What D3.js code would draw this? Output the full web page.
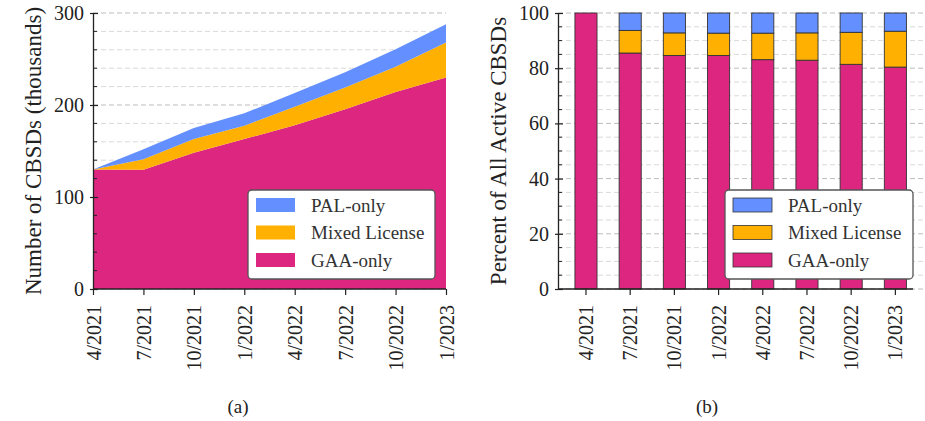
<!DOCTYPE html>
<html>
<head>
<meta charset="utf-8">
<script src="https://cdn.jsdelivr.net/npm/d3@7/dist/d3.min.js"></script>
<style>
  html, body { margin: 0; padding: 0; background: #fff; }
  svg { display: block; font-family: "Liberation Serif", "Times New Roman", serif; }
  svg text { font-family: "Liberation Serif", "Times New Roman", serif; }
</style>
</head>
<body>
<svg id="fig" width="925" height="421"></svg>
<script>
// Quarterly snapshots
const dates = ["4/2021", "7/2021", "10/2021", "1/2022", "4/2022", "7/2022", "10/2022", "1/2023"];

// (a) active CBSDs, thousands
const gaaCount   = [130, 129.5, 148, 163, 178, 195.5, 214, 230];
const mixedCount = [0, 11.5, 15, 14.5, 20, 23.5, 27.5, 38];
const palCount   = [0, 11, 12, 13.5, 15, 16.5, 19, 19.7];

// (b) share of all active CBSDs, percent
const gaaPct   = [100, 85.5, 84.6, 84.6, 83.1, 82.9, 81.4, 80.4];
const mixedPct = [0, 8.2, 8.2, 8.1, 9.6, 9.9, 11.6, 13.0];
const palPct   = [0, 6.3, 7.2, 7.3, 7.3, 7.2, 7.0, 6.6];

const seriesKeys = ["gaa", "mixed", "pal"];
const seriesNames = { gaa: "GAA-only", mixed: "Mixed License", pal: "PAL-only" };
const colors = { gaa: "#DC267F", mixed: "#FFB000", pal: "#648FFF" };

const leftTicks = [0, 100, 200, 300];
const rightTicks = [0, 20, 40, 60, 80, 100];

const svg = d3.select("#fig");
const axisColor = "#222";
const serif = "Liberation Serif";

function rows(g, m, p) {
  return dates.map((d, i) => ({ date: d, gaa: g[i], mixed: m[i], pal: p[i] }));
}

function grid(g, y, x0, gridEnd, major, minorStep, max) {
  const minor = d3.range(0, max + 0.001, minorStep).filter(v => !major.includes(v));
  g.append("g").selectAll("line").data(minor).join("line")
    .attr("x1", x0).attr("x2", gridEnd).attr("y1", d => y(d)).attr("y2", d => y(d))
    .attr("stroke", "#d9d9d9").attr("stroke-width", 1).attr("stroke-dasharray", "5,3");
  g.append("g").selectAll("line").data(major).join("line")
    .attr("x1", x0).attr("x2", gridEnd).attr("y1", d => y(d)).attr("y2", d => y(d))
    .attr("stroke", "#bdbdbd").attr("stroke-width", 1).attr("stroke-dasharray", "5,3");
}

function drawYAxis(g, y, x0, major, minorStep, max, label, labelX) {
  const minor = d3.range(0, max + 0.001, minorStep).filter(v => !major.includes(v));
  const ax = g.append("g").attr("transform", `translate(${x0},0)`)
    .call(d3.axisLeft(y).tickValues(major).tickSizeInner(3).tickSizeOuter(0).tickPadding(6));
  ax.attr("font-family", serif);
  ax.select(".domain").attr("stroke", axisColor).attr("stroke-width", 1.3);
  ax.selectAll(".tick line").attr("stroke", axisColor).attr("stroke-width", 1.2).attr("x2", -3).attr("x1", 5);
  ax.selectAll(".tick text").attr("fill", "#222").style("font-size", "20px");
  g.append("g").selectAll("line").data(minor).join("line")
    .attr("x1", x0).attr("x2", x0 + 4).attr("y1", d => y(d)).attr("y2", d => y(d))
    .attr("stroke", axisColor).attr("stroke-width", 1);
  g.append("text")
    .attr("transform", `translate(${labelX},${(y(0) + y(max)) / 2}) rotate(-90)`)
    .attr("text-anchor", "middle").attr("dy", "0.35em")
    .attr("fill", "#222").style("font-size", "23px").text(label);
}

function drawXAxis(g, x, yPos, x0, x1) {
  g.append("line").attr("x1", x0).attr("x2", x1).attr("y1", yPos).attr("y2", yPos)
    .attr("stroke", axisColor).attr("stroke-width", 1.3);
  const ax = g.append("g").attr("transform", `translate(0,${yPos})`)
    .call(d3.axisBottom(x).tickSizeInner(6).tickSizeOuter(0).tickPadding(10));
  ax.attr("font-family", serif);
  ax.select(".domain").remove();
  ax.selectAll(".tick line").attr("stroke", axisColor).attr("stroke-width", 1.2);
  ax.selectAll(".tick text")
    .attr("fill", "#222").style("font-size", "20px")
    .attr("text-anchor", "end")
    .attr("transform", "rotate(-90)")
    .attr("x", -16).attr("y", 0).attr("dy", "0.35em");
}

function legend(g, x, y, w, h, tx, sx, outlined) {
  const lg = g.append("g");
  lg.append("rect").attr("x", x).attr("y", y).attr("width", w).attr("height", h)
    .attr("rx", 4).attr("fill", "#fff").attr("stroke", "#555").attr("stroke-width", 1.3);
  const order = ["pal", "mixed", "gaa"];
  order.forEach((k, i) => {
    const cy = y + 15 + i * 27.5;
    lg.append("rect").attr("x", sx).attr("y", cy - 7).attr("width", 39).attr("height", 14)
      .attr("fill", colors[k])
      .attr("stroke", outlined ? "#333" : "none").attr("stroke-width", outlined ? 0.8 : 0);
    lg.append("text").attr("x", tx).attr("y", cy).attr("dy", "0.35em")
      .attr("fill", "#333").style("font-size", "19px").text(seriesNames[k]);
  });
}

// ---------- (a) stacked area ----------
{
  const g = svg.append("g");
  const x = d3.scalePoint().domain(dates).range([93, 446]);
  const y = d3.scaleLinear().domain([0, 300]).range([289, 13]);
  grid(g, y, 93, 446, leftTicks, 20, 300);
  const stack = d3.stack().keys(seriesKeys)(rows(gaaCount, mixedCount, palCount));
  const area = d3.area().x(d => x(d.data.date)).y0(d => y(d[0])).y1(d => y(d[1]));
  g.append("g").selectAll("path").data(stack).join("path")
    .attr("d", area).attr("fill", d => colors[d.key]);
  drawXAxis(g, x, 289, 93, 446);
  drawYAxis(g, y, 93, leftTicks, 20, 300, "Number of CBSDs (thousands)", 33);
  legend(g, 248, 190, 187, 89, 311, 256, false);
  g.append("text").attr("x", 238).attr("y", 406).attr("dy", "0.35em")
    .attr("text-anchor", "middle").attr("fill", "#222").style("font-size", "19px").text("(a)");
}

// ---------- (b) stacked percent bars ----------
{
  const g = svg.append("g");
  const x = d3.scaleBand().domain(dates).range([558, 913])
    .paddingInner(0.5).paddingOuter(0.266).align(0.72);
  const y = d3.scaleLinear().domain([0, 100]).range([289, 13]);
  grid(g, y, 558, 925, rightTicks, 5, 100);
  const stack = d3.stack().keys(seriesKeys)(rows(gaaPct, mixedPct, palPct));
  g.append("g").selectAll("g").data(stack).join("g")
    .attr("fill", d => colors[d.key])
    .selectAll("rect").data(d => d.filter(s => s[1] - s[0] > 0)).join("rect")
    .attr("x", d => x(d.data.date)).attr("width", x.bandwidth())
    .attr("y", d => y(d[1])).attr("height", d => y(d[0]) - y(d[1]))
    .attr("stroke", "#333").attr("stroke-width", 0.9);
  drawXAxis(g, x, 289, 558, 913);
  drawYAxis(g, y, 558, rightTicks, 5, 100, "Percent of All Active CBSDs", 498);
  legend(g, 725, 190, 188, 89, 788, 733, true);
  g.append("text").attr("x", 707).attr("y", 406).attr("dy", "0.35em")
    .attr("text-anchor", "middle").attr("fill", "#222").style("font-size", "19px").text("(b)");
}
</script>
</body>
</html>
